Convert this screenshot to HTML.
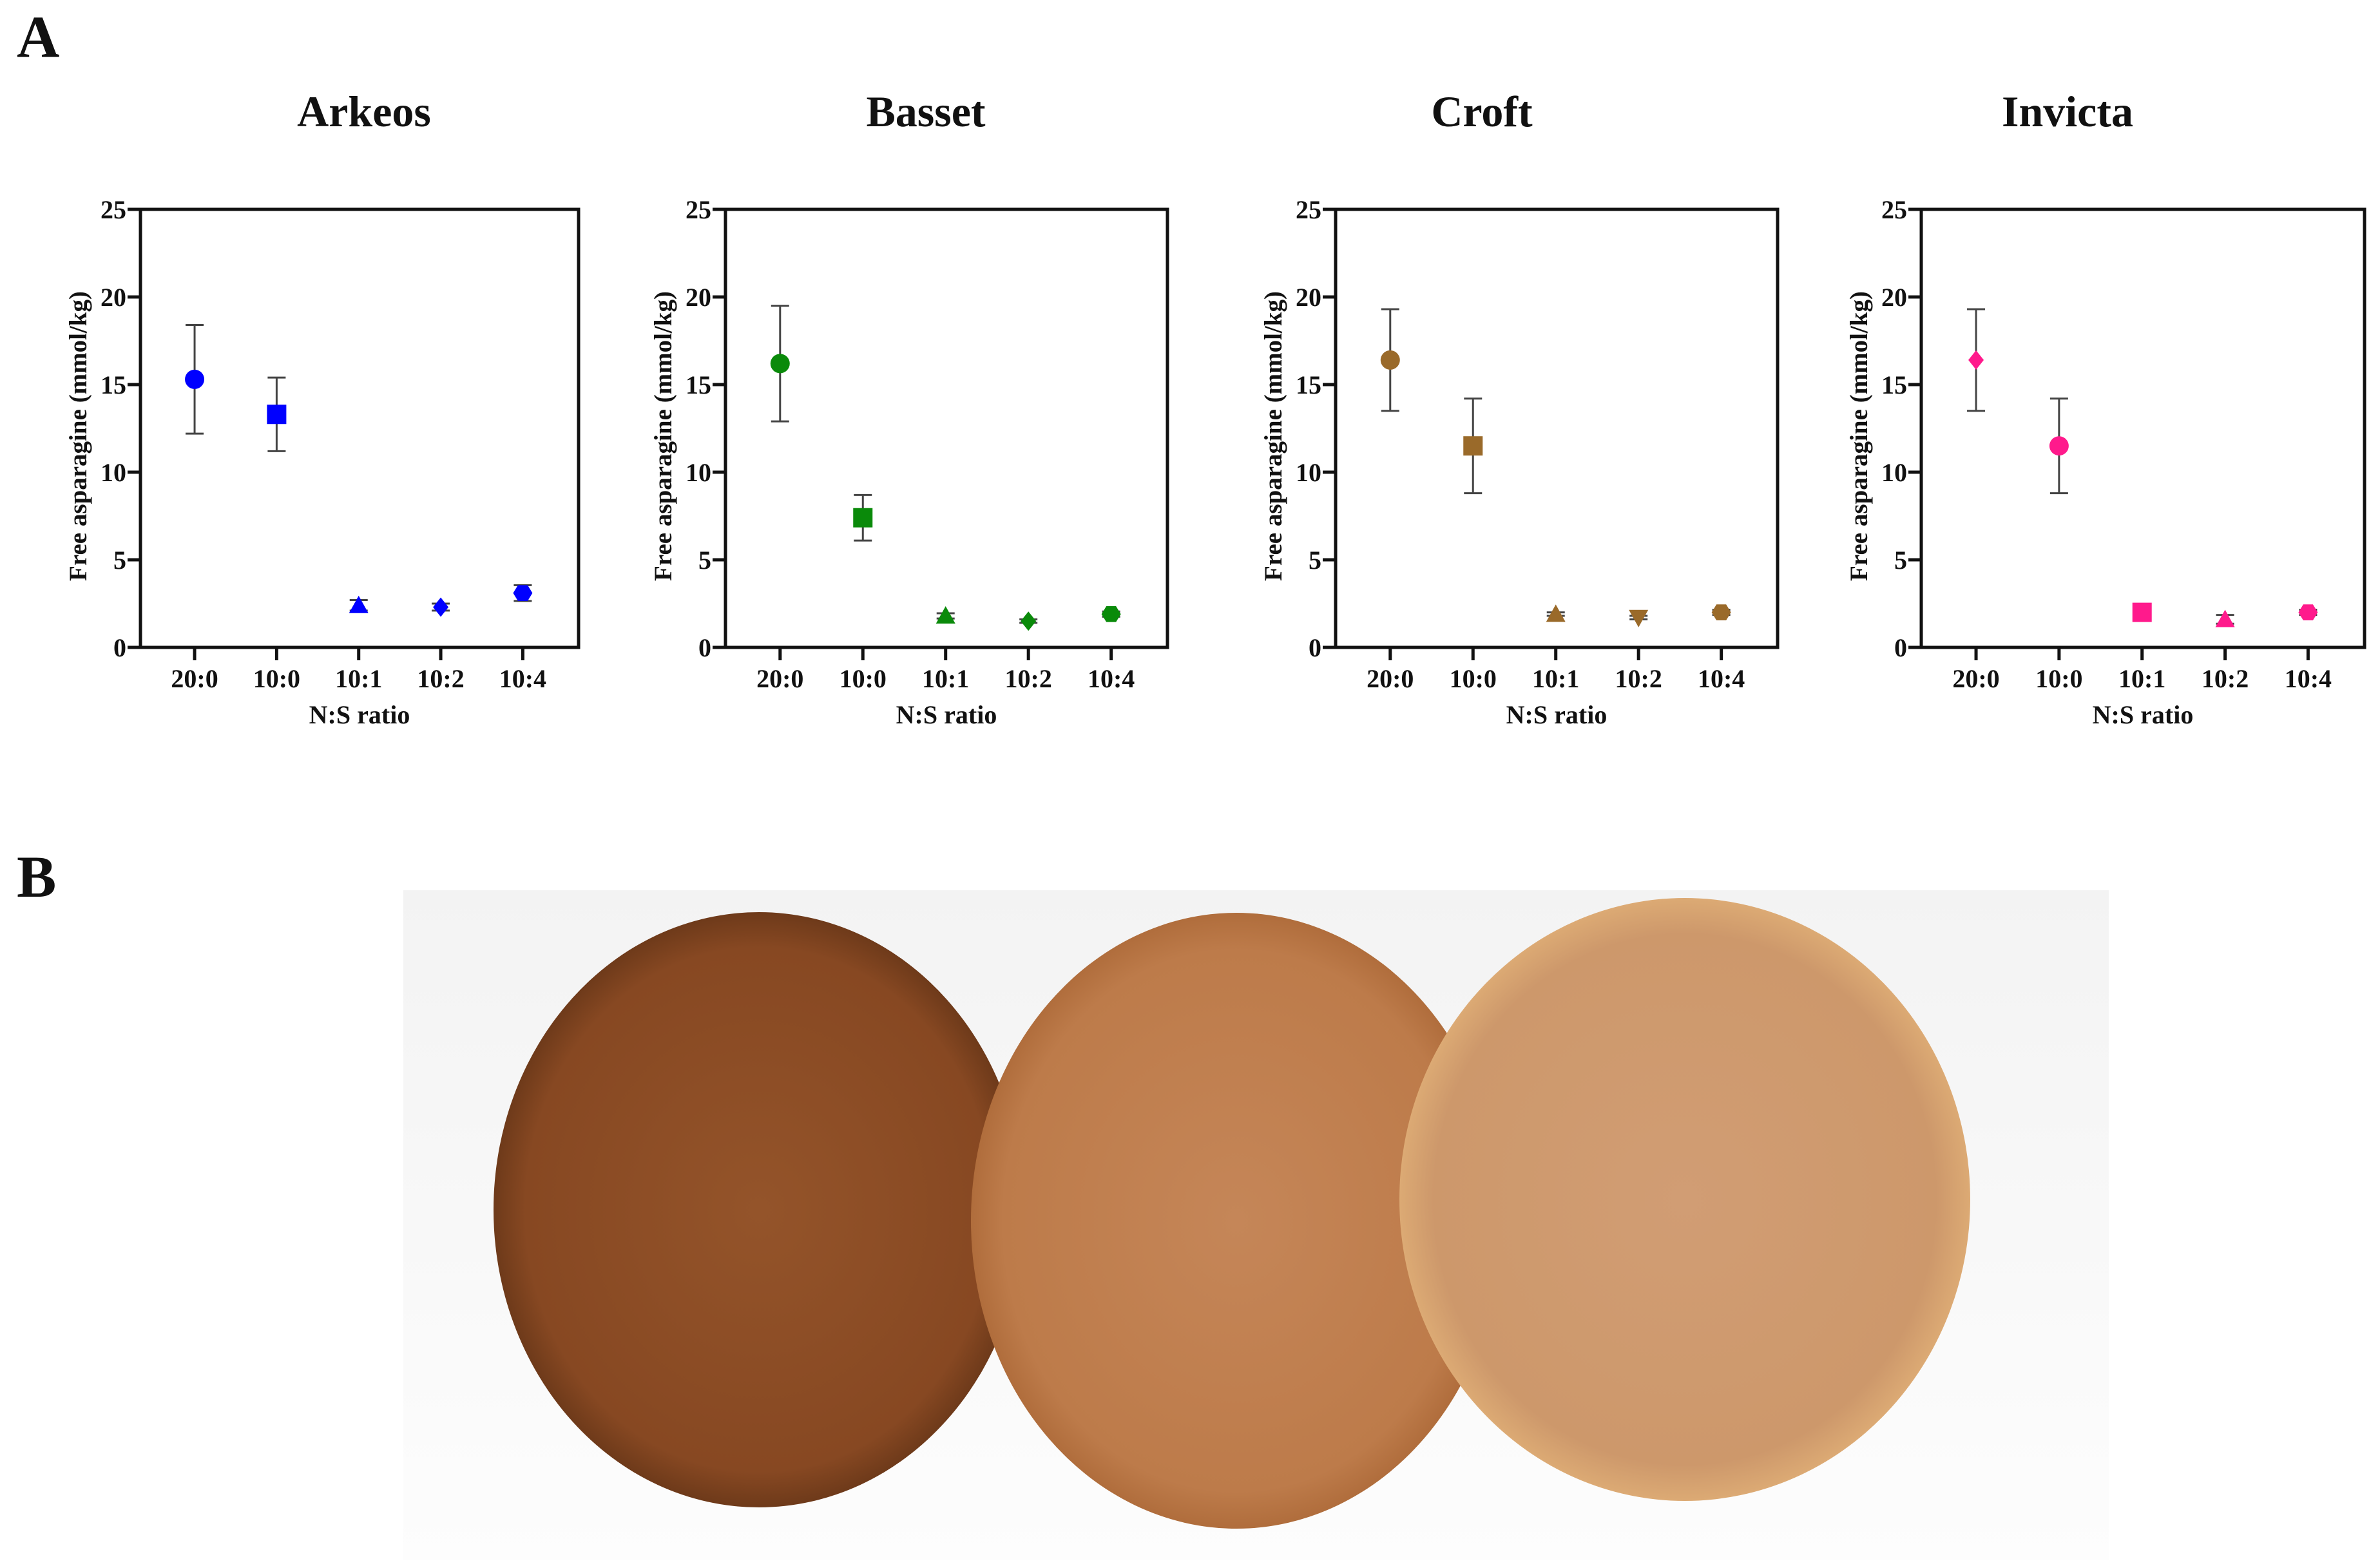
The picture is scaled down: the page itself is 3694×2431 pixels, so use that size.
<!DOCTYPE html>
<html><head><meta charset="utf-8"><style>
html,body{margin:0;padding:0;background:#fff;}
svg{display:block;}
text{font-family:"Liberation Serif",serif;font-weight:bold;fill:#111;}
</style></head><body>
<svg id="fig" width="3694" height="2431" viewBox="0 0 3694 2431">
<defs>
<linearGradient id="bg" x1="0" y1="0" x2="0" y2="1"><stop offset="0" stop-color="#f3f3f3"/><stop offset="1" stop-color="#fdfdfd"/></linearGradient>
<radialGradient id="c1" cx="0.5" cy="0.5" r="0.5"><stop offset="0" stop-color="#94542a"/><stop offset="0.88" stop-color="#874822"/><stop offset="1" stop-color="#6e3a1a"/></radialGradient>
<radialGradient id="c2" cx="0.5" cy="0.5" r="0.5"><stop offset="0" stop-color="#c58658"/><stop offset="0.88" stop-color="#bd7b4a"/><stop offset="1" stop-color="#b06d3c"/></radialGradient>
<radialGradient id="c3" cx="0.5" cy="0.5" r="0.5"><stop offset="0" stop-color="#d19d74"/><stop offset="0.88" stop-color="#cd986b"/><stop offset="1" stop-color="#dcaa74"/></radialGradient>
</defs>
<text x="26" y="88" font-size="92">A</text>
<text x="26" y="1392" font-size="92">B</text>
<g>
<rect x="626" y="1382" width="2647" height="1040" fill="url(#bg)"/>
<ellipse cx="1178" cy="1878" rx="412" ry="462" fill="url(#c1)"/>
<ellipse cx="1919" cy="1895" rx="412" ry="478" fill="url(#c2)"/>
<ellipse cx="2615" cy="1862" rx="443" ry="468" fill="url(#c3)"/>
</g>
<g id="charts"></g>
</svg>
<script>
const categories = ["20:0","10:0","10:1","10:2","10:4"];
const yTicks = [0,5,10,15,20,25];
const cultivars = ["Arkeos","Basset","Croft","Invicta"];
const colors = ["#0000ff","#0a8a0a","#9a6a2a","#ff1a8c"];
const arkeosMean = [15.3,13.3,2.4,2.3,3.1];
const arkeosErr = [3.1,2.1,0.3,0.2,0.45];
const bassetMean = [16.2,7.4,1.8,1.5,1.9];
const bassetErr = [3.3,1.3,0.15,0.1,0.15];
const croftMean = [16.4,11.5,1.9,1.7,2.0];
const croftErr = [2.9,2.7,0.1,0.1,0.15];
const invictaMean = [16.4,11.5,2.0,1.6,2.0];
const invictaErr = [2.9,2.7,0.1,0.25,0.15];
const arkeosShapes = ["circle","square","triangle","diamond","hexagon"];
const bassetShapes = ["circle","square","triangle","diamond","hexagon"];
const croftShapes = ["circle","square","triangle","down","hexagon"];
const invictaShapes = ["diamond","circle","square","triangle","hexagon"];

const means=[arkeosMean,bassetMean,croftMean,invictaMean];
const errs=[arkeosErr,bassetErr,croftErr,invictaErr];
const shapes=[arkeosShapes,bassetShapes,croftShapes,invictaShapes];
const panelLeft=[218,1126,2073,2982];
const panelWidth=[680,686,686,688];
const titleX=[565,1437,2300,3209];
const NS="http://www.w3.org/2000/svg";
const root=document.getElementById('charts');
function mk(tag,attrs,parent){const e=document.createElementNS(NS,tag);for(const k in attrs)e.setAttribute(k,attrs[k]);parent.appendChild(e);return e;}
function marker(shape,cx,cy,col,g){
 let e;const r=15;
 if(shape==="circle") e=mk('circle',{cx:cx,cy:cy,r:r,fill:col},g);
 else if(shape==="square") e=mk('rect',{x:cx-r,y:cy-r,width:2*r,height:2*r,fill:col},g);
 else if(shape==="triangle") e=mk('polygon',{points:`${cx},${cy-r} ${cx+r},${cy+r*0.8} ${cx-r},${cy+r*0.8}`,fill:col},g);
 else if(shape==="down") e=mk('polygon',{points:`${cx},${cy+r} ${cx+r},${cy-r*0.8} ${cx-r},${cy-r*0.8}`,fill:col},g);
 else if(shape==="diamond") e=mk('polygon',{points:`${cx},${cy-r} ${cx+r*0.8},${cy} ${cx},${cy+r} ${cx-r*0.8},${cy}`,fill:col},g);
 else {let p=[];for(let i=0;i<6;i++){const a=Math.PI/3*i;p.push((cx+r*Math.cos(a))+","+(cy+r*0.95*Math.sin(a)));}e=mk('polygon',{points:p.join(' '),fill:col},g);}
 return e;
}
for(let p=0;p<4;p++){
 const L=panelLeft[p],R=L+panelWidth[p],T=325,B=1005;
 const y=v=>B-(v/25)*(B-T);
 const step=(R-L)/5.34;
 const x=i=>L+step*(0.66+i);
 const g=mk('g',{},root);
 
 
 const t=mk('text',{x:titleX[p],y:196,'font-size':68,'text-anchor':'middle'},g);t.textContent=cultivars[p];
 
 
 const fr=mk('rect',{x:L,y:T,width:R-L,height:B-T,fill:'none',stroke:'#111','stroke-width':5},g);
 
 
 yTicks.forEach(v=>{
  const ln=mk('line',{x1:L-20,x2:L,y1:y(v),y2:y(v),stroke:'#111','stroke-width':5},g);
  
  
  const tl=mk('text',{x:L-22,y:y(v)+14,'font-size':40,'text-anchor':'end'},g);tl.textContent=v;
  
  
 });
 categories.forEach((c,i)=>{
  const ln=mk('line',{x1:x(i),x2:x(i),y1:B,y2:B+20,stroke:'#111','stroke-width':5},g);
  
  
  const tl=mk('text',{x:x(i),y:B+62,'font-size':40,'text-anchor':'middle'},g);tl.textContent=c;
  
  
 });
 const xt=mk('text',{x:(L+R)/2,y:B+118,'font-size':40,'text-anchor':'middle'},g);xt.textContent="N:S ratio";
 
 
 const yt=mk('text',{x:0,y:0,'font-size':39,'text-anchor':'middle',transform:`translate(${L-84},${(T+B)/2+12}) rotate(-90)`},g);yt.textContent="Free asparagine (mmol/kg)";
 
 
 means[p].forEach((m,i)=>{
  const e=errs[p][i];
  const eg=mk('g',{stroke:'#444','stroke-width':3},g);
  
  
  mk('line',{x1:x(i),x2:x(i),y1:y(m-e),y2:y(m+e)},eg);
  mk('line',{x1:x(i)-14,x2:x(i)+14,y1:y(m-e),y2:y(m-e)},eg);
  mk('line',{x1:x(i)-14,x2:x(i)+14,y1:y(m+e),y2:y(m+e)},eg);
  const mkr=marker(shapes[p][i],x(i),y(m),colors[p],g);
  
  
 });
}
</script>
</body></html>
